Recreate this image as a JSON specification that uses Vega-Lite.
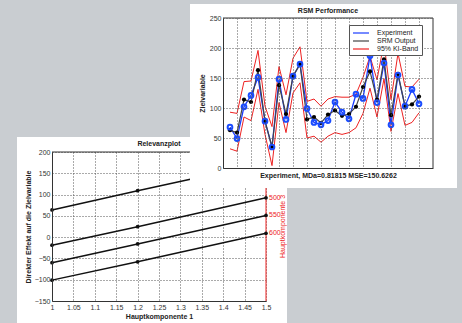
{
  "$schema": "https://vega.github.io/schema/vega-lite/v6.json",
  "width": 210,
  "height": 150,
  "autosize": {"type": "none"},
  "padding": {"left": 223, "top": 18, "right": 29, "bottom": 155},
  "background": "white",
  "config": {
    "font": "Liberation Sans",
    "view": {"fill": null, "stroke": null},
    "axis": {
      "labelFont": "Liberation Sans",
      "labelFontSize": 7,
      "labelColor": "#333333",
      "labelPadding": 2,
      "labelFlush": false,
      "labelOverlap": false,
      "domainColor": "#333333",
      "domainWidth": 1,
      "ticks": false,
      "gridColor": "#555555",
      "gridDash": [1, 2],
      "gridWidth": 1,
      "gridOpacity": 1,
      "titleFont": "Liberation Sans",
      "titleFontSize": 7,
      "titleFontWeight": "bold",
      "titleColor": "#222222"
    }
  },
  "datasets": {
    "rel": [
      {"k": "450", "x": 1, "y": 64}, {"k": "450", "x": 1.2, "y": 109}, {"k": "450", "x": 1.5, "y": 175},
      {"k": "500", "x": 1, "y": -19}, {"k": "500", "x": 1.2, "y": 24.5}, {"k": "500", "x": 1.5, "y": 92.5},
      {"k": "550", "x": 1, "y": -60}, {"k": "550", "x": 1.2, "y": -16}, {"k": "550", "x": 1.5, "y": 51},
      {"k": "600", "x": 1, "y": -101}, {"k": "600", "x": 1.2, "y": -58}, {"k": "600", "x": 1.5, "y": 9}
    ],
    "rsm": [
      {"i": 1, "exp": 68, "srm": 63, "hi": 93, "lo": 32},
      {"i": 2, "exp": 49, "srm": 59, "hi": 91, "lo": 28},
      {"i": 3, "exp": 102, "srm": 114, "hi": 144, "lo": 85},
      {"i": 4, "exp": 121, "srm": 110, "hi": 145, "lo": 79},
      {"i": 5, "exp": 151, "srm": 163, "hi": 196, "lo": 131},
      {"i": 6, "exp": 78, "srm": 78, "hi": 103, "lo": 56},
      {"i": 7, "exp": 35, "srm": 35, "hi": 69, "lo": 4},
      {"i": 8, "exp": 148, "srm": 138, "hi": 169, "lo": 109},
      {"i": 9, "exp": 81, "srm": 90, "hi": 122, "lo": 59},
      {"i": 10, "exp": 153, "srm": 153, "hi": 183, "lo": 125},
      {"i": 11, "exp": 173, "srm": 173, "hi": 202, "lo": 142},
      {"i": 12, "exp": 99, "srm": 81, "hi": 111, "lo": 50},
      {"i": 13, "exp": 76, "srm": 85, "hi": 115, "lo": 53},
      {"i": 14, "exp": 72, "srm": 75, "hi": 103, "lo": 43},
      {"i": 15, "exp": 79, "srm": 89, "hi": 115, "lo": 53},
      {"i": 16, "exp": 110, "srm": 96, "hi": 119, "lo": 59},
      {"i": 17, "exp": 93, "srm": 87, "hi": 118, "lo": 56},
      {"i": 18, "exp": 82, "srm": 90, "hi": 118, "lo": 59},
      {"i": 19, "exp": 123, "srm": 102, "hi": 123, "lo": 67},
      {"i": 20, "exp": 116, "srm": 135, "hi": 151, "lo": 91},
      {"i": 21, "exp": 187, "srm": 161, "hi": 186, "lo": 133},
      {"i": 22, "exp": 109, "srm": 114, "hi": 147, "lo": 85},
      {"i": 23, "exp": 175, "srm": 181, "hi": 209, "lo": 149},
      {"i": 24, "exp": 72, "srm": 88, "hi": 114, "lo": 61},
      {"i": 25, "exp": 155, "srm": 157, "hi": 191, "lo": 124},
      {"i": 26, "exp": 103, "srm": 103, "hi": 136, "lo": 71},
      {"i": 27, "exp": 131, "srm": 106, "hi": 135, "lo": 76},
      {"i": 28, "exp": 107, "srm": 119, "hi": 148, "lo": 92}
    ]
  },
  "resolve": {"scale": {"x": "independent", "y": "independent", "color": "independent"}},
  "layer": [
    {
      "data": {"name": "rel"},
      "resolve": {"scale": {"x": "independent", "y": "independent"}},
      "layer": [
        {
          "transform": [{"filter": "datum.k == '450' && datum.x == 1"}],
          "mark": {"type": "rule", "color": "#333333", "strokeWidth": 1},
          "encoding": {
            "x": {"datum": 1, "type": "quantitative",
              "scale": {"domain": [1, 1.5], "range": [-171, 43], "nice": false, "zero": false},
              "axis": {"orient": "bottom", "offset": 0, "grid": true, "domain": false, "labels": false, "title": null, "values": [1, 1.05, 1.1, 1.15, 1.2, 1.25, 1.3, 1.35, 1.4, 1.45, 1.5], "zindex": 0}},
            "x2": {"datum": 1.5},
            "y": {"datum": -0.792, "type": "quantitative",
              "scale": {"domain": [0, 1], "range": [16, -133], "nice": false, "zero": false},
              "axis": null}
          }
        },
        {
          "transform": [{"filter": "datum.k == '450' && datum.x == 1"}],
          "mark": {"type": "rule", "color": "#ee2222", "strokeWidth": 1},
          "encoding": {
            "x": {"datum": 1.5, "type": "quantitative",
              "scale": {"domain": [1, 1.5], "range": [-171, 43], "nice": false, "zero": false},
              "axis": null},
            "y": {"datum": -150, "type": "quantitative",
              "scale": {"domain": [-150, 200], "range": [283, 134], "nice": false, "zero": false},
              "axis": {"orient": "left", "offset": 0, "grid": true, "domain": false, "labels": false, "title": null, "values": [-150, -100, -50, 0, 50, 100, 150, 200], "zindex": 0}},
            "y2": {"datum": 200}
          }
        },
        {
          "encoding": {
            "x": {
              "field": "x", "type": "quantitative",
              "scale": {"domain": [1, 1.5], "range": [-171, 43], "nice": false, "zero": false},
              "axis": {"orient": "bottom", "offset": 133, "grid": false, "values": [1, 1.05, 1.1, 1.15, 1.2, 1.25, 1.3, 1.35, 1.4, 1.45, 1.5], "format": "~g", "title": "Hauptkomponente 1", "titlePadding": 2, "zindex": 1}
            },
            "y": {
              "field": "y", "type": "quantitative",
              "scale": {"domain": [-150, 200], "range": [283, 134], "nice": false, "zero": false},
              "axis": {"orient": "left", "offset": 171, "grid": false, "values": [-150, -100, -50, 0, 50, 100, 150, 200], "title": "Direkter Effekt auf die Zielvariable", "titlePadding": 3, "zindex": 1}
            }
          },
          "layer": [
            {
              "transform": [{"filter": "datum.k == '450' && datum.x == 1"}],
              "mark": {"type": "rect", "fill": "white"},
              "encoding": {"x": {"datum": 1.5023}, "x2": {"datum": 1.549}, "y": {"datum": 235.2}, "y2": {"datum": -148}}
            },
            {
              "mark": {"type": "line", "color": "#111111", "strokeWidth": 1.5},
              "encoding": {"detail": {"field": "k", "type": "nominal"}}
            },
            {
              "mark": {"type": "point", "filled": true, "color": "#111111", "size": 14, "opacity": 1}
            },
            {
              "transform": [{"filter": "datum.x == 1.5"}],
              "mark": {"type": "text", "color": "#ee2222", "fontSize": 7, "align": "left", "baseline": "middle", "dx": 3},
              "encoding": {"text": {"field": "k", "type": "nominal"}}
            },
            {
              "transform": [{"filter": "datum.k == '450' && datum.x == 1"}],
              "mark": {"type": "text", "text": "Relevanzplot", "fontSize": 7, "fontWeight": "bold", "color": "#222222", "baseline": "middle", "dy": -8},
              "encoding": {"x": {"datum": 1.25}, "y": {"datum": 200}}
            },
            {
              "transform": [{"filter": "datum.k == '450' && datum.x == 1"}],
              "mark": {"type": "text", "text": "Hauptkomponente 3", "fontSize": 7, "color": "#ee2222", "angle": 270, "align": "center", "baseline": "middle", "dy": 17},
              "encoding": {"x": {"datum": 1.5}, "y": {"datum": 25}}
            }
          ]
        }
      ]
    },
    {
      "data": {"name": "rsm"},
      "encoding": {
        "x": {
          "field": "i", "type": "quantitative",
          "scale": {"domain": [0, 30], "nice": false, "zero": false},
          "axis": {"orient": "bottom", "offset": 0, "grid": true, "values": [2, 4, 6, 8, 10, 12, 14, 16, 18, 20, 22, 24, 26, 28], "labels": false, "title": "Experiment, MDa=0.81815 MSE=150.6262", "titlePadding": 3, "zindex": 1}
        },
        "y": {
          "field": "exp", "type": "quantitative",
          "scale": {"domain": [0, 250], "nice": false, "zero": false},
          "axis": {"orient": "left", "offset": 0, "grid": true, "values": [0, 50, 100, 150, 200, 250], "title": "Zielvariable", "titlePadding": 4, "zindex": 1}
        }
      },
      "layer": [
        {
          "transform": [{"filter": "datum.i == 1"}],
          "mark": {"type": "rect", "fill": "#c9cdd1"},
          "encoding": {"x": {"datum": -32}, "x2": {"datum": -29.43}, "y": {"datum": 280}, "y2": {"datum": -258.4}}
        },
        {
          "transform": [{"filter": "datum.i == 1"}],
          "mark": {"type": "rect", "fill": "#c9cdd1"},
          "encoding": {"x": {"datum": -29.5}, "x2": {"datum": -4.714}, "y": {"datum": 280}, "y2": {"datum": 51.67}}
        },
        {
          "transform": [{"filter": "datum.i == 1"}],
          "mark": {"type": "rect", "fill": "#c9cdd1"},
          "encoding": {"x": {"datum": -4.8}, "x2": {"datum": 34.2}, "y": {"datum": 280}, "y2": {"datum": 273.33}}
        },
        {
          "transform": [{"filter": "datum.i == 1"}],
          "mark": {"type": "rect", "fill": "#c9cdd1"},
          "encoding": {"x": {"datum": 33.43}, "x2": {"datum": 34.2}, "y": {"datum": 273.4}, "y2": {"datum": -33.4}}
        },
        {
          "transform": [{"filter": "datum.i == 1"}],
          "mark": {"type": "rect", "fill": "#c9cdd1"},
          "encoding": {"x": {"datum": 9.143}, "x2": {"datum": 34.2}, "y": {"datum": -33.33}, "y2": {"datum": -258.4}}
        },
        {
          "transform": [{"filter": "datum.i == 1"}],
          "mark": {"type": "rect", "fill": "white"},
          "encoding": {"x": {"datum": -4.714}, "x2": {"datum": 33.43}, "y": {"datum": 273.33}, "y2": {"datum": -33.33}}
        },
        {
          "transform": [{"filter": "datum.i == 1"}],
          "mark": {"type": "rule", "color": "#333333", "strokeWidth": 1},
          "encoding": {"x": {"datum": 0}, "x2": {"datum": 30}, "y": {"datum": 250}}
        },
        {
          "transform": [{"filter": "datum.i == 1"}],
          "mark": {"type": "rule", "color": "#333333", "strokeWidth": 1},
          "encoding": {"x": {"datum": 30}, "y": {"datum": 0}, "y2": {"datum": 250}}
        },
        {
          "mark": {"type": "line", "strokeWidth": 1},
          "encoding": {
            "y": {"field": "hi", "type": "quantitative"},
            "color": {"datum": "95% KI-Band", "scale": {"domain": ["Experiment", "SRM Output", "95% KI-Band"], "range": ["#1a3cff", "#444444", "#ee2222"]},
              "legend": {"orient": "none", "legendX": 126, "legendY": 7, "title": null, "symbolType": "M-2,0L2,0", "symbolSize": 64, "symbolStrokeWidth": 1.2, "symbolOffset": 4, "labelOffset": 11, "labelFontSize": 7, "labelFont": "Liberation Sans", "labelColor": "#222222", "strokeColor": "#555555", "fillColor": "white", "padding": 3, "rowPadding": 0, "zindex": 1}}
          }
        },
        {
          "mark": {"type": "line", "strokeWidth": 1},
          "encoding": {
            "y": {"field": "lo", "type": "quantitative"},
            "color": {"datum": "95% KI-Band"}
          }
        },
        {
          "mark": {"type": "line", "strokeWidth": 1.3},
          "encoding": {"color": {"datum": "Experiment"}}
        },
        {
          "mark": {"type": "line", "strokeWidth": 1.2},
          "encoding": {
            "y": {"field": "srm", "type": "quantitative"},
            "color": {"datum": "SRM Output"}
          }
        },
        {
          "mark": {"type": "point", "filled": true, "color": "#000000", "size": 18, "opacity": 1},
          "encoding": {"y": {"field": "srm", "type": "quantitative"}}
        },
        {
          "mark": {"type": "point", "filled": false, "color": "#1a4cff", "strokeWidth": 2, "size": 22, "opacity": 1}
        },
        {
          "transform": [{"filter": "datum.i == 1"}],
          "mark": {"type": "text", "text": "RSM Performance", "fontSize": 7, "fontWeight": "bold", "color": "#222222", "baseline": "middle", "dy": -7},
          "encoding": {"x": {"datum": 15}, "y": {"datum": 250}}
        }
      ]
    }
  ]
}
